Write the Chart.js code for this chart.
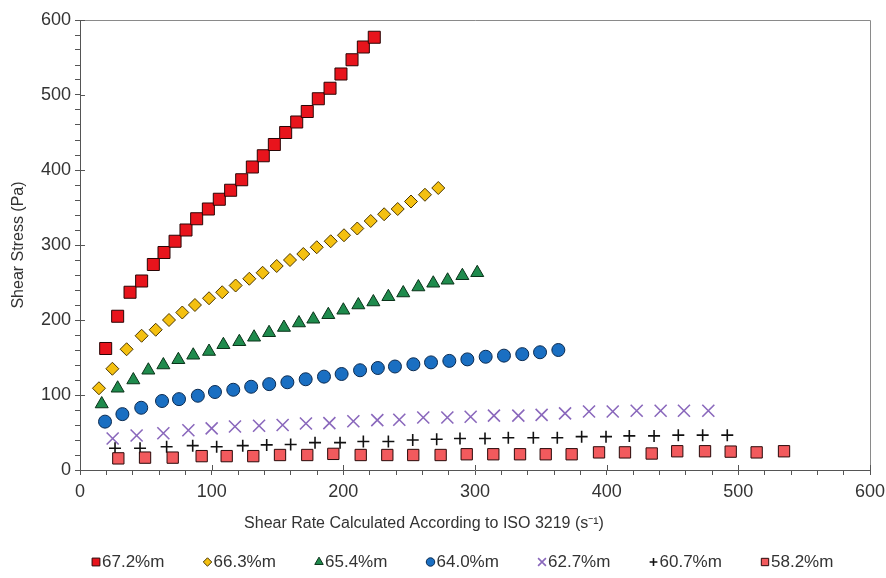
<!DOCTYPE html>
<html>
<head>
<meta charset="utf-8">
<script src="https://cdn.jsdelivr.net/npm/chart.js@4.4.1/dist/chart.umd.min.js"></script>
<style>
  html, body { margin: 0; padding: 0; background: #fff; }
  #wrap { width: 886px; height: 578px; }
</style>
</head>
<body>
<div id="wrap"><canvas id="flow-chart" width="886" height="578"></canvas></div>
<script>
// --- Data ---
const seriesNames = ['67.2%m', '66.3%m', '65.4%m', '64.0%m', '62.7%m', '60.7%m', '58.2%m'];

const rate672 = [19.5, 28.6, 38, 46.8, 55.7, 63.8, 72.2, 80.5, 88.6, 97.5, 105.8, 114.4, 122.8, 130.9, 139.2, 147.6, 156.2, 164.6, 172.6, 181, 189.9, 198.2, 206.6, 215.2, 223.5];
const stress672 = [162, 205, 237, 252, 274, 290, 305, 320, 335, 348, 361, 373, 387, 404, 419, 434, 450, 464, 478, 495, 509, 528, 547, 564, 577];

const rate663 = [14.4, 24.6, 35.4, 46.8, 57.5, 67.6, 77.7, 87.3, 98, 108, 118.2, 128.6, 138.7, 149.4, 159.5, 169.6, 179.8, 190.4, 200.5, 210.6, 220.8, 231, 241.3, 251.4, 262, 272.1];
const stress663 = [109, 135, 161, 179, 187, 200, 210, 220, 229, 237, 246, 255, 263, 272, 280, 288, 297, 305, 313, 322, 332, 341, 348, 358, 367, 376];

const rate654 = [16.5, 28.6, 40.5, 51.9, 63.3, 74.7, 86, 98, 108.9, 121, 132.2, 143.6, 154.9, 166.3, 177.2, 188.6, 200, 211.4, 222.8, 234.2, 245.5, 257, 268.3, 279.2, 290.4, 301.7];
const stress654 = [88, 109, 120, 133, 140, 147, 153, 158, 167, 171, 177, 183, 190, 196, 201, 207, 213, 220, 224, 231, 236, 244, 249, 253, 259, 263];

const rate640 = [19, 32.2, 46.5, 62.3, 75.2, 89.5, 102.5, 116.4, 130, 143.7, 157.5, 171.4, 185.3, 198.7, 212.7, 226.2, 239.2, 253.2, 266.6, 280.5, 294.2, 308.1, 322, 335.9, 349.4, 363.3];
const stress640 = [64.5, 74.5, 83, 92, 94.5, 99, 104, 107, 111, 114.5, 117, 121, 124.5, 128, 133, 136, 138, 141, 143.5, 145.5, 147.5, 151, 152.5, 154.5, 157, 160];

const rate627 = [24.8, 43, 63.3, 82.3, 100, 117.7, 136, 153.9, 171.6, 189.4, 207.6, 225.8, 242.5, 260.7, 279, 296.7, 314.4, 332.9, 350.6, 368.4, 386.6, 404.6, 422.8, 441, 458.7, 477.2];
const stress627 = [42, 46, 49, 53, 55.5, 58, 59, 60, 62, 62.5, 65, 66.5, 67, 70, 70, 71, 72.5, 72.5, 73.5, 75.5, 78, 78, 79, 79, 79, 79];

const rate607 = [26.6, 45.6, 65.8, 85.6, 103.8, 123.6, 141.8, 160, 178.5, 197.5, 215.2, 234.2, 252.7, 270.9, 288.6, 307.6, 325.3, 344.3, 362.5, 381, 399.5, 417.2, 436, 454.4, 472.9, 491.6];
const stress607 = [29, 29, 31, 32.5, 31, 32.5, 33.5, 34, 36.5, 36.5, 38, 38, 40, 41, 42, 42, 43, 43, 43, 44.5, 44.5, 45.5, 45.5, 46.5, 46.5, 46.5];

const rate582 = [29.1, 49.4, 70.4, 92.4, 111.4, 131.6, 151.9, 172.6, 192.4, 213.2, 233.4, 253.1, 273.9, 293.7, 313.9, 334.2, 353.7, 373.4, 394.2, 413.9, 434.2, 453.6, 474.7, 494.2, 513.9, 534.7];
const stress582 = [15.5, 16.5, 16.5, 18.5, 18.5, 18.5, 20, 20, 21.5, 20, 20, 20, 20, 21, 21, 21, 21, 21, 23.5, 23.5, 22, 25, 25, 24.5, 23.5, 25];

const xTickMax = 600;
const yTickMax = 600;

// --- Styles ---
const markerStyles = [
  { pointStyle: 'rect',     radius: 8.5, fill: '#e8141c', line: '#2a0606', width: 1 },
  { pointStyle: 'rectRot',  radius: 6.5, fill: '#f4c010', line: '#4a3600', width: 1 },
  { pointStyle: 'triangle', radius: 7.5, fill: '#1f8b4d', line: '#0a3219', width: 1 },
  { pointStyle: 'circle',   radius: 6.5, fill: '#1a6fc2', line: '#0a2a50', width: 1 },
  { pointStyle: 'crossRot', radius: 8.5, fill: '#8a68bc', line: '#8a68bc', width: 1.6 },
  { pointStyle: 'cross',    radius: 6,   fill: '#111111', line: '#111111', width: 1.6 },
  { pointStyle: 'rect',     radius: 8,   fill: '#f25a5d', line: '#2a0a0a', width: 1 },
];

const FONT = "'Liberation Sans', Arial, sans-serif";

function toPoints(xs, ys) {
  return xs.map((x, i) => ({ x, y: ys[i] }));
}

const seriesData = [
  toPoints(rate672, stress672),
  toPoints(rate663, stress663),
  toPoints(rate654, stress654),
  toPoints(rate640, stress640),
  toPoints(rate627, stress627),
  toPoints(rate607, stress607),
  toPoints(rate582, stress582),
];

// --- Plugin: frame, major tick marks, axis titles, legend ---
const decorPlugin = {
  id: 'decor',
  afterDraw(chart) {
    const { ctx, chartArea: a, scales } = chart;
    ctx.save();

    // top / right frame
    ctx.strokeStyle = '#8a8a8a';
    ctx.lineWidth = 1;
    ctx.beginPath();
    ctx.moveTo(a.left, a.top + 0.5);
    ctx.lineTo(a.right + 0.5, a.top + 0.5);
    ctx.lineTo(a.right + 0.5, a.bottom);
    ctx.stroke();

    // major ticks poke into the plot
    ctx.strokeStyle = '#555';
    ctx.beginPath();
    for (let v = 100; v <= yTickMax; v += 100) {
      const py = Math.round(scales.y.getPixelForValue(v)) + 0.5;
      ctx.moveTo(a.left, py);
      ctx.lineTo(a.left + 5, py);
    }
    for (let v = 100; v <= xTickMax; v += 100) {
      const px = Math.round(scales.x.getPixelForValue(v)) + 0.5;
      ctx.moveTo(px, a.bottom);
      ctx.lineTo(px, a.bottom - 5);
    }
    ctx.stroke();

    // axis titles
    ctx.fillStyle = '#333';
    ctx.font = '16px ' + FONT;
    ctx.textAlign = 'center';
    ctx.textBaseline = 'middle';
    ctx.fillText('Shear Rate Calculated According to ISO 3219 (s\u207B\u00B9)', 424, 524);
    ctx.save();
    ctx.translate(19, (a.top + a.bottom) / 2);
    ctx.rotate(-Math.PI / 2);
    ctx.fillText('Shear Stress (Pa)', 0, 0);
    ctx.restore();

    // legend
    ctx.font = '17px ' + FONT;
    ctx.textAlign = 'left';
    const legendY = 562;
    let lx = 92;
    seriesNames.forEach((name, i) => {
      const m = markerStyles[i];
      ctx.fillStyle = m.fill;
      ctx.strokeStyle = m.line;
      ctx.lineWidth = m.width;
      Chart.helpers.drawPoint(ctx, {
        pointStyle: m.pointStyle,
        radius: m.radius * 0.65,
        rotation: 0,
        borderWidth: m.width,
      }, lx + 4, legendY);
      ctx.fillStyle = '#333';
      ctx.fillText(name, lx + 10, legendY);
      lx += 111.5;
    });

    ctx.restore();
  },
};

const datasets = seriesNames.map((name, i) => ({
  label: name,
  data: seriesData[i],
  showLine: false,
  pointStyle: markerStyles[i].pointStyle,
  pointRadius: markerStyles[i].radius,
  pointHoverRadius: markerStyles[i].radius,
  backgroundColor: markerStyles[i].fill,
  borderColor: markerStyles[i].line,
  pointBorderWidth: markerStyles[i].width,
  borderWidth: markerStyles[i].width,
}));

const tickFont = { family: FONT, size: 18 };

new Chart(document.getElementById('flow-chart'), {
  type: 'scatter',
  data: { datasets: datasets.slice().reverse() },
  options: {
    responsive: false,
    animation: false,
    devicePixelRatio: 1,
    layout: { padding: { left: 0, top: 20, right: 16, bottom: 0 } },
    plugins: { legend: { display: false }, tooltip: { enabled: false } },
    scales: {
      x: {
        type: 'linear',
        min: 0,
        max: xTickMax,
        afterFit: (scale) => {
          scale.height = 108;
          scale.paddingLeft = 0;
          scale.paddingRight = 0;
        },
        ticks: {
          stepSize: 20,
          autoSkip: false,
          maxRotation: 0,
          color: '#333',
          font: tickFont,
          padding: 6,
          callback: (v) => (v % 100 === 0 ? v : ''),
        },
        grid: { drawOnChartArea: false, drawTicks: true, tickLength: 5, color: '#555' },
        border: { display: true, color: '#555', width: 1 },
      },
      y: {
        type: 'linear',
        min: 0,
        max: yTickMax,
        afterFit: (scale) => {
          scale.width = 80;
          scale.paddingTop = 0;
          scale.paddingBottom = 0;
        },
        ticks: {
          stepSize: 20,
          autoSkip: false,
          color: '#333',
          font: tickFont,
          padding: 4,
          callback: (v) => (v % 100 === 0 ? v : ''),
        },
        grid: { drawOnChartArea: false, drawTicks: true, tickLength: 5, color: '#555' },
        border: { display: true, color: '#555', width: 1 },
      },
    },
  },
  plugins: [decorPlugin],
});
</script>
</body>
</html>
